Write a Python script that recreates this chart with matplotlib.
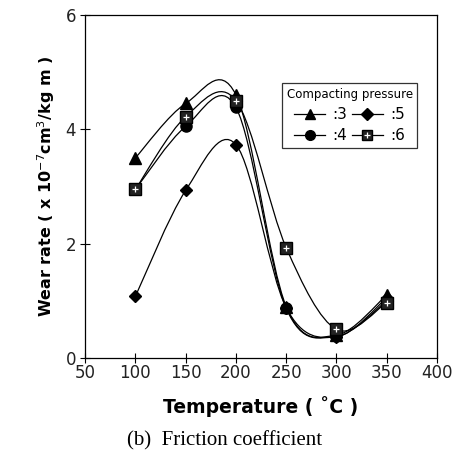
import numpy as np
import matplotlib
matplotlib.use("Agg")
import matplotlib.pyplot as plt
from matplotlib.path import Path
from matplotlib.patches import PathPatch
from matplotlib.lines import Line2D
from matplotlib.legend_handler import HandlerTuple

##########################################################################
temps = [100, 150, 200, 250, 300, 350]
p3 = [3.50, 4.45, 4.60, 0.90, 0.40, 1.10]
p4 = [2.95, 4.05, 4.38, 0.87, 0.38, 1.00]
p5 = [1.08, 2.93, 3.73, 0.88, 0.37, 1.05]
p6 = [2.95, 4.22, 4.50, 1.93, 0.50, 0.97]
labels = [":3", ":4", ":5", ":6"]

##########################################################################
fig = plt.figure(figsize=(4.58, 4.62), dpi=100)
ax = fig.add_axes([0.186, 0.225, 0.768, 0.743])


def smooth_path(x, y):
    # Catmull-Rom style smoothing drawn as cubic bezier segments
    pts = np.column_stack([x, y]).astype(float)
    ext = np.vstack([pts[0], pts, pts[-1]])
    verts = [tuple(pts[0])]
    codes = [Path.MOVETO]
    for i in range(1, len(ext) - 2):
        p0, p1, p2, p3_ = ext[i - 1], ext[i], ext[i + 1], ext[i + 2]
        c1 = p1 + (p2 - p0) / 6.0
        c2 = p2 - (p3_ - p1) / 6.0
        verts += [tuple(c1), tuple(c2), tuple(p2)]
        codes += [Path.CURVE4] * 3
    return Path(verts, codes)


for ys in [p3, p4, p5, p6]:
    ax.add_patch(PathPatch(smooth_path(temps, ys), fill=False, lw=0.9, ec="black"))

ax.plot(temps, p3, ls="none", marker="^", ms=8, color="black")
ax.plot(temps, p4, ls="none", marker="o", ms=8, color="black")
ax.plot(temps, p5, ls="none", marker="D", ms=6.5, color="black")
ax.plot(temps, p6, ls="none", marker="s", ms=8, mfc="#222222", mec="black")
ax.plot(temps, p6, ls="none", marker="+", ms=5, mew=0.9, color="white")

h3 = Line2D([], [], color="black", lw=0.9, marker="^", ms=7)
h4 = Line2D([], [], color="black", lw=0.9, marker="o", ms=7)
h5 = Line2D([], [], color="black", lw=0.9, marker="D", ms=6)
h6a = Line2D([], [], color="black", lw=0.9, marker="s", ms=7, mfc="#222222")
h6b = Line2D([], [], ls="none", marker="+", ms=4.5, mew=0.9, color="white")
leg = ax.legend([h3, h4, h5, (h6a, h6b)], labels, ncol=2,
                title="Compacting pressure", loc="upper left",
                bbox_to_anchor=(0.56, 0.8), frameon=True, fancybox=False,
                edgecolor="black", fontsize=11, title_fontsize=8.5,
                handlelength=2.0, handletextpad=0.5, columnspacing=0.3,
                labelspacing=0.4, borderpad=0.3, borderaxespad=0,
                handler_map={tuple: HandlerTuple(ndivide=1)})
leg.get_frame().set_linewidth(0.9)

ax.set_xlim(50, 400)
ax.set_ylim(0, 6)
ax.set_xticks([50, 100, 150, 200, 250, 300, 350, 400])
ax.set_yticks([0, 2, 4, 6])
ax.tick_params(direction="inout", length=7, width=0.8, labelsize=12,
               labelcolor="#222222")
ax.tick_params(axis="x", pad=1)
ax.tick_params(axis="y", pad=3)
for s in ax.spines.values():
    s.set_linewidth(0.9)

ax.set_ylabel("Wear rate ( x 10$^{-7}$cm$^{3}$/kg m )", fontsize=11.5,
              fontweight="bold", labelpad=6)
ax.set_xlabel("Temperature ( ˚C )", fontsize=13.5, fontweight="bold",
              labelpad=10)

fig.text(0.49, 0.045, "(b)  Friction coefficient", ha="center", va="center",
         fontsize=15, family="Liberation Serif")

fig.savefig("out.png", dpi=100)
